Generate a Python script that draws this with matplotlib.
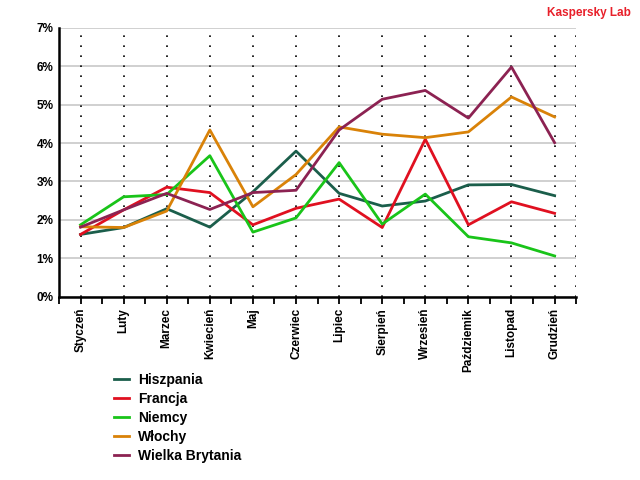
import matplotlib
matplotlib.use("Agg")
import matplotlib.pyplot as plt
import numpy as np

plt.rcParams['font.family'] = ['Liberation Sans', 'DejaVu Sans']

# months (Polish)
months = ['Styczeń', 'Luty', 'Marzec', 'Kwiecień', 'Maj', 'Czerwiec', 'Lipiec',
          'Sierpień', 'Wrzesień', 'Paździemik', 'Listopad', 'Grudzień']

# values in percent
hiszpania = [1.62, 1.80, 2.29, 1.81, 2.73, 3.79, 2.69, 2.36, 2.49, 2.91, 2.92, 2.63]
francja = [1.62, 2.26, 2.85, 2.71, 1.87, 2.30, 2.54, 1.80, 4.10, 1.87, 2.47, 2.17]
niemcy = [1.87, 2.60, 2.66, 3.67, 1.68, 2.05, 3.49, 1.89, 2.67, 1.56, 1.40, 1.06]
wlochy = [1.82, 1.80, 2.23, 4.34, 2.34, 3.18, 4.42, 4.23, 4.14, 4.29, 5.20, 4.68]
wielka_brytania = [1.81, 2.26, 2.69, 2.27, 2.71, 2.77, 4.34, 5.14, 5.37, 4.65, 5.98, 4.01]

series = [
    ('Hiszpania', hiszpania, '#1b5e4b'),
    ('Francja', francja, '#e01020'),
    ('Niemcy', niemcy, '#19c419'),
    ('Włochy', wlochy, '#d98208'),
    ('Wielka Brytania', wielka_brytania, '#8c2252'),
]

fig = plt.figure(figsize=(6.4, 4.8), dpi=100)
ax = fig.add_axes([0.0922, 0.382, 0.808, 0.560])

x = np.arange(len(months))

# grid: gray horizontal, dotted vertical
for yv in range(0, 8):
    ax.axhline(yv, color='#c8c8c8', lw=1.2, zorder=1)
for xv in list(x) + [11.5]:
    ax.axvline(xv, color='black', lw=1.2, ls=(0, (1, 5)), zorder=1)

handles = []
for name, vals, col in series:
    h, = ax.plot(x, vals, color=col, lw=2, label=name, zorder=3)
    handles.append(h)

ax.set_xlim(-0.5, 11.5)
ax.set_ylim(0, 7)
ax.set_yticks(range(0, 8))
ax.set_yticklabels([f'{v}%' for v in range(0, 8)], fontweight='bold', fontsize=8.5)
ax.set_xticks(x)
ax.set_xticklabels(months, rotation=90, fontweight='bold', fontsize=8.5)
ax.set_xticks(np.arange(-0.5, 12, 1), minor=True)
ax.tick_params(axis='x', which='both', length=5, width=1.3, direction='out', pad=3)
ax.tick_params(axis='y', length=0, pad=4)

for s in ['top', 'right']:
    ax.spines[s].set_visible(False)
ax.spines['left'].set_linewidth(1.8)
ax.spines['bottom'].set_linewidth(1.8)

fig.text(0.985, 0.972, 'Kaspersky Lab', color='#e8202a', fontweight='bold',
         fontsize=8.5, ha='right', va='center')

leg = fig.legend(handles=handles, loc='upper left', bbox_to_anchor=(0.158, 0.249),
                 frameon=False, handlelength=1.1, handletextpad=0.65,
                 labelspacing=0.36, prop={'weight': 'bold', 'size': 10})

fig.savefig('out.png', dpi=100)
